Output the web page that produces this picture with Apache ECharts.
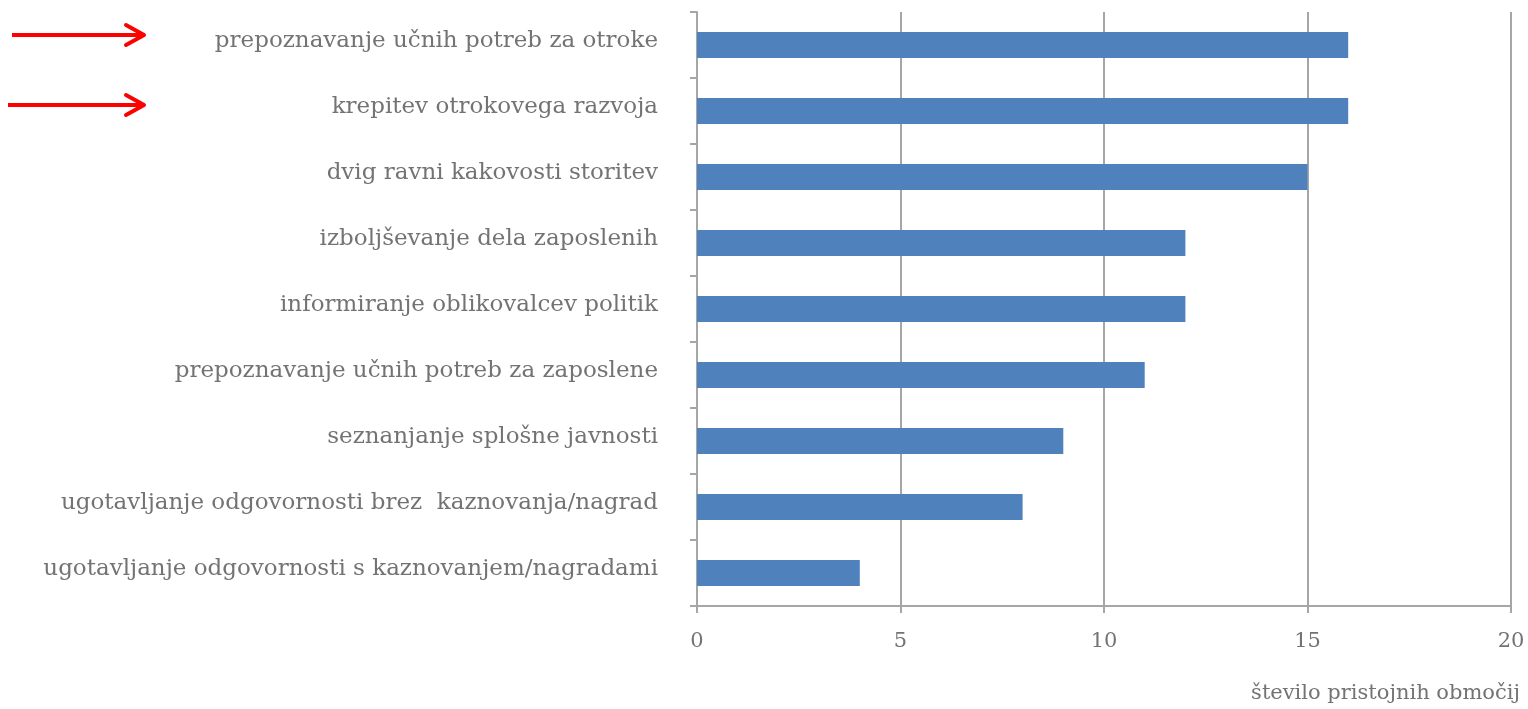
<!DOCTYPE html>
<html>
<head>
<meta charset="utf-8">
<script src="https://cdn.jsdelivr.net/npm/echarts@6/dist/echarts.min.js"></script>
<style>html,body{margin:0;padding:0;background:#fff}#c{width:1528px;height:709px}</style>
</head>
<body>
<div id="c"></div>
<script>
const categories = [
  'prepoznavanje učnih potreb za otroke',
  'krepitev otrokovega razvoja',
  'dvig ravni kakovosti storitev',
  'izboljševanje dela zaposlenih',
  'informiranje oblikovalcev politik',
  'prepoznavanje učnih potreb za zaposlene',
  'seznanjanje splošne javnosti',
  'ugotavljanje odgovornosti brez  kaznovanja/nagrad',
  'ugotavljanje odgovornosti s kaznovanjem/nagradami'
];
const values = [16, 16, 15, 12, 12, 11, 9, 8, 4];
const xTicks = [0, 5, 10, 15, 20];
const axisTitle = 'število pristojnih območij';

const FONT = 'DejaVu Serif, serif';
const TXT = '#737373';
const GRID = '#A6A6A6';

const chart = echarts.init(document.getElementById('c'));
chart.setOption({
  animation: false,
  grid: { left: 697, right: 17, top: 12, bottom: 103, containLabel: false },
  xAxis: {
    type: 'value', min: xTicks[0], max: xTicks[xTicks.length - 1], interval: 5,
    axisLine: { show: true, lineStyle: { color: GRID, width: 2 } },
    axisTick: { show: true, length: 7, lineStyle: { color: GRID, width: 2 } },
    splitLine: { show: true, lineStyle: { color: GRID, width: 2 } },
    axisLabel: { margin: 25, color: TXT, fontFamily: FONT, fontSize: 21 }
  },
  yAxis: {
    type: 'category', data: categories, inverse: true,
    axisLine: { show: true, lineStyle: { color: GRID, width: 2 } },
    axisTick: { show: true, length: 7, lineStyle: { color: GRID, width: 2 } },
    axisLabel: { margin: 39, color: TXT, fontFamily: FONT, fontSize: 23, verticalAlign: 'bottom', lineHeight: 8 }
  },
  series: [{
    type: 'bar', data: values, barWidth: 26,
    itemStyle: { color: '#4F81BD' }
  }],
  graphic: [
    { type: 'text', right: 8, top: 683, style: { text: axisTitle, fill: TXT, font: '21px ' + FONT } },
    { type: 'line', shape: { x1: 12, y1: 35, x2: 144, y2: 35 }, style: { stroke: '#FF0000', lineWidth: 4 } },
    { type: 'polyline', shape: { points: [[126, 25], [144, 35], [126, 45]] }, style: { stroke: '#FF0000', lineWidth: 4, fill: null, lineJoin: 'round', lineCap: 'round' } },
    { type: 'line', shape: { x1: 8, y1: 105, x2: 144, y2: 105 }, style: { stroke: '#FF0000', lineWidth: 4 } },
    { type: 'polyline', shape: { points: [[126, 95], [144, 105], [126, 115]] }, style: { stroke: '#FF0000', lineWidth: 4, fill: null, lineJoin: 'round', lineCap: 'round' } }
  ]
});
</script>
</body>
</html>
